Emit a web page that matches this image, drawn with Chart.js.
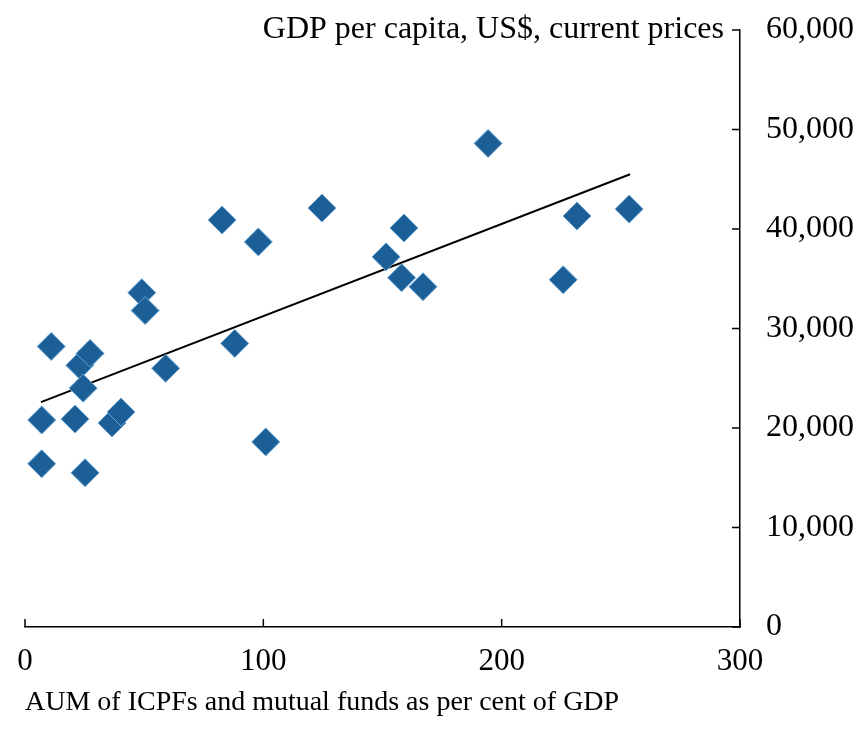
<!DOCTYPE html>
<html>
<head>
<meta charset="utf-8">
<script src="https://cdn.jsdelivr.net/npm/chart.js@4.4.1/dist/chart.umd.min.js"></script>
<style>
  html, body { margin: 0; padding: 0; background: #fff; }
  #wrap { width: 864px; height: 729px; }
</style>
</head>
<body>
<div id="wrap"><canvas id="myChart" width="864" height="729"></canvas></div>
<script>
// AUM of ICPFs and mutual funds, % of GDP
const aumPct = [7, 7, 11, 21, 23, 24.4, 27.3, 25.2, 36.5, 40.3, 49, 50.4, 59, 82.7, 88, 97.9, 101,
  124.6, 151.5, 159, 158, 167, 194.3, 225.8, 231.6, 253.5];
// GDP per capita, US$
const gdpPerCapita = [20800, 16400, 28200, 20900, 26300, 24000, 27500, 15500, 20500, 21600, 33600, 31800, 26000, 40900, 28500, 38700, 18600,
  42100, 37200, 40100, 35100, 34200, 48600, 34900, 41300, 42000];

// fitted line end points
const trendX = [6.7, 253.9];
const trendY = [22600, 45500];

const xTicks = [0, 100, 200, 300];
const yTicks = [0, 10000, 20000, 30000, 40000, 50000, 60000];

const yTitle = "GDP per capita, US$, current prices";
const xTitle = "AUM of ICPFs and mutual funds as per cent of GDP";

const FONT = "'Liberation Serif', 'Times New Roman', serif";

// ticks pointing into the plot, plus the y title at the top of the axis
const inwardTicks = {
  id: "inwardTicks",
  afterDraw(chart) {
    const ctx = chart.ctx;
    const x = chart.scales.x, y = chart.scales.y;
    const area = chart.chartArea;
    ctx.save();
    ctx.strokeStyle = "#000";
    ctx.lineWidth = 1.5;
    ctx.beginPath();
    xTicks.forEach((v) => {
      const px = x.getPixelForValue(v);
      ctx.moveTo(px, area.bottom);
      ctx.lineTo(px, area.bottom - 8);
    });
    yTicks.forEach((v) => {
      const py = y.getPixelForValue(v);
      ctx.moveTo(area.right, py);
      ctx.lineTo(area.right - 8, py);
    });
    ctx.stroke();

    ctx.fillStyle = "#000";
    ctx.font = "32px " + FONT;
    ctx.textAlign = "right";
    ctx.textBaseline = "middle";
    ctx.fillText(yTitle, area.right - 16, y.getPixelForValue(60000));
    ctx.restore();
  },
};

new Chart(document.getElementById("myChart"), {
  type: "scatter",
  data: {
    datasets: [
      {
        label: "Countries",
        data: aumPct.map((v, i) => ({ x: v, y: gdpPerCapita[i] })),
        pointStyle: "rectRot",
        pointRadius: 14,
        pointHoverRadius: 14,
        backgroundColor: "#1b5f96",
        borderColor: "#6aa6d6",
        borderWidth: 1,
      },
      {
        label: "Trend",
        type: "line",
        data: trendX.map((v, i) => ({ x: v, y: trendY[i] })),
        borderColor: "#000",
        borderWidth: 2,
        pointRadius: 0,
        fill: false,
      },
    ],
  },
  options: {
    responsive: false,
    animation: false,
    layout: { padding: { left: 25, top: 30, right: 0, bottom: 0 } },
    plugins: {
      legend: { display: false },
      tooltip: { enabled: false },
    },
    scales: {
      x: {
        type: "linear",
        min: 0,
        max: 300,
        afterBuildTicks: (s) => { s.ticks = xTicks.map((v) => ({ value: v })); },
        afterFit: (s) => { s.height = 102; s.paddingLeft = 0; s.paddingRight = 0; },
        grid: { display: false, drawTicks: false },
        border: { display: true, color: "#000", width: 1.5 },
        ticks: {
          color: "#000",
          padding: 16,
          maxRotation: 0,
          font: { family: FONT, size: 31 },
        },
        title: {
          display: true,
          text: xTitle,
          align: "start",
          color: "#000",
          padding: { top: 0, bottom: 10 },
          font: { family: FONT, size: 28 },
        },
      },
      y: {
        type: "linear",
        position: "right",
        min: 0,
        max: 60000,
        afterBuildTicks: (s) => { s.ticks = yTicks.map((v) => ({ value: v })); },
        afterFit: (s) => { s.width = 124; s.paddingTop = 0; s.paddingBottom = 0; },
        grid: { display: false, drawTicks: false },
        border: { display: true, color: "#000", width: 1.5 },
        ticks: {
          color: "#000",
          padding: 26,
          font: { family: FONT, size: 32 },
          callback: (v) => v.toLocaleString("en-US"),
        },
      },
    },
  },
  plugins: [inwardTicks],
});
</script>
</body>
</html>
